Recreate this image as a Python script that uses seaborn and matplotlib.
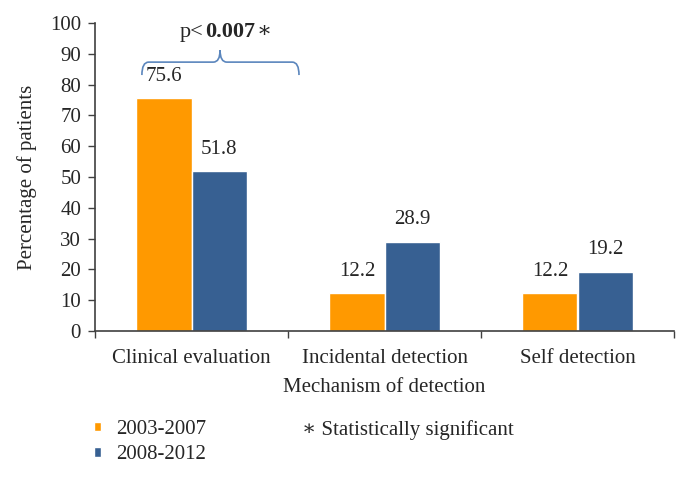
import matplotlib
matplotlib.use("Agg")
import matplotlib.pyplot as plt
from matplotlib.path import Path
from matplotlib.patches import PathPatch
import pandas as pd
import seaborn as sns

CATEGORIES = ["Clinical evaluation", "Incidental detection", "Self detection"]
PERIODS = ["2003-2007", "2008-2012"]
VALUES_2003_2007 = [75.6, 12.2, 12.2]
VALUES_2008_2012 = [51.8, 28.9, 19.2]
Y_TICKS = list(range(0, 101, 10))
COLORS = ["#FF9900", "#376092"]
BRACE_COLOR = "#5B86BD"
AXIS_COLOR = "#404040"

sns.set_style("white")
plt.rcParams["font.family"] = ["Liberation Serif", "DejaVu Serif"]

data = pd.DataFrame({
    "category": CATEGORIES * 2,
    "period": [PERIODS[0]] * 3 + [PERIODS[1]] * 3,
    "value": VALUES_2003_2007 + VALUES_2008_2012,
})

fig = plt.figure(figsize=(6.89, 4.78), dpi=100)
ax = fig.add_axes([95 / 689, 1 - 331 / 478, 579 / 689, 308 / 478])

sns.barplot(
    data=data,
    x="category",
    y="value",
    hue="period",
    order=CATEGORIES,
    hue_order=PERIODS,
    palette=COLORS,
    width=0.57,
    saturation=1,
    ax=ax,
)

for container in ax.containers:
    ax.bar_label(container, fmt="%.1f", fontsize=15, padding=9)

ax.set_xlim(-0.5, len(CATEGORIES) - 0.5)
ax.set_ylim(0, 100)
ax.set_yticks(Y_TICKS)
ax.tick_params(axis="y", labelsize=15, length=5, width=1, color=AXIS_COLOR,
               direction="out", left=True, pad=5)
ax.tick_params(axis="x", labelsize=15, length=0, pad=13)
ax.set_xticks([i - 0.5 for i in range(len(CATEGORIES) + 1)], minor=True)
ax.tick_params(axis="x", which="minor", length=5, width=1, color=AXIS_COLOR,
               direction="out", bottom=True)
for side in ["top", "right"]:
    ax.spines[side].set_visible(False)
for side in ["left", "bottom"]:
    ax.spines[side].set_color(AXIS_COLOR)
    ax.spines[side].set_linewidth(1.2)

ax.set_ylabel("Percentage of patients", fontsize=15, labelpad=9)
ax.set_xlabel("Mechanism of detection", fontsize=15, labelpad=7)

# brace over the first group
x0, xt, x1 = -0.257, 0.148, 0.557
y_end, y_mid, y_tip = 83.1, 87.3, 91.2
dx = 0.035
verts = [
    (x0, y_end), (x0, y_mid), (x0 + dx, y_mid),
    (xt - dx, y_mid), (xt, y_mid), (xt, y_tip),
    (xt, y_mid), (xt + dx, y_mid),
    (x1 - dx, y_mid), (x1, y_mid), (x1, y_end),
]
codes = [
    Path.MOVETO, Path.CURVE3, Path.CURVE3,
    Path.LINETO, Path.CURVE3, Path.CURVE3,
    Path.CURVE3, Path.CURVE3,
    Path.LINETO, Path.CURVE3, Path.CURVE3,
]
ax.add_patch(PathPatch(Path(verts, codes), facecolor="none",
                       edgecolor=BRACE_COLOR, linewidth=1.2, clip_on=False))

t1 = ax.text(-0.06, 95.5, "p<", fontsize=16, va="baseline", ha="left")
t2 = ax.annotate("0.007", xy=(1, 0), xycoords=t1, xytext=(1, 0),
                 textcoords="offset points", fontsize=16, fontweight="bold",
                 va="bottom", ha="left")
ax.annotate("\u2217", xy=(1, 0), xycoords=t2, xytext=(1, 0),
            textcoords="offset points", fontsize=16, va="bottom", ha="left")

ax.legend(
    loc="upper left",
    bbox_to_anchor=(94 / 689, 1 - 420 / 478),
    bbox_transform=fig.transFigure,
    frameon=False,
    fontsize=15,
    handlelength=0.35,
    handleheight=0.35,
    handletextpad=0.7,
    labelspacing=0.3,
    borderpad=0,
    borderaxespad=0,
)

fig.text(302 / 689, 1 - 430 / 478, "\u2217 Statistically significant",
         fontsize=15, va="center", ha="left")

fig.savefig("out.png", dpi=100)
